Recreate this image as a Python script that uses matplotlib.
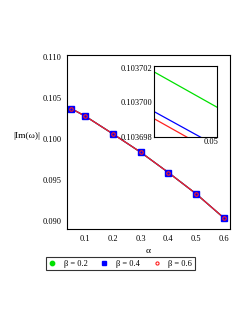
import matplotlib
matplotlib.use("Agg")
import matplotlib.pyplot as plt

plt.rcParams['font.family'] = ['Liberation Serif', 'DejaVu Serif']
plt.rcParams['mathtext.fontset'] = 'stix'

alpha = [0.05, 0.1, 0.2, 0.3, 0.4, 0.5, 0.6]
im_b02 = [0.1037008, 0.10279, 0.10062, 0.09838, 0.09590, 0.09330, 0.09036]
im_b04 = [0.1036994, 0.10279, 0.10062, 0.09838, 0.09590, 0.09330, 0.09036]
im_b06 = [0.1036990, 0.10279, 0.10062, 0.09838, 0.09590, 0.09330, 0.09036]

zoom_alpha = [0.04991, 0.05001]
zoom_b02 = [0.10370176, 0.10369972]
zoom_b04 = [0.10369947, 0.10369747]
zoom_b06 = [0.10369906, 0.10369702]

labels = ['β = 0.2', 'β = 0.4', 'β = 0.6']
GREEN, BLUE, RED = '#00e000', '#0000ff', '#ff2020'

fig = plt.figure(figsize=(2.49, 3.23), dpi=100)
ax = fig.add_axes([0.269, 0.291, 0.655, 0.539])
FS = 6.0

ax.plot(alpha, im_b02, color=GREEN, lw=0.9)
ax.plot(alpha, im_b04, color=BLUE, lw=0.9)
ax.plot(alpha, im_b06, color=RED, lw=0.9)
h1, = ax.plot(alpha, im_b02, ls='none', marker='o', ms=3.5, color=GREEN, label=labels[0])
h2, = ax.plot(alpha, im_b04, ls='none', marker='s', ms=3.8, color=BLUE, label=labels[1])
h3, = ax.plot(alpha, im_b06, ls='none', marker='o', ms=2.5, mfc='none', mec=RED, mew=0.8, label=labels[2])

ax.set_xlim(0.035, 0.622)
ax.set_ylim(0.08902, 0.11024)
ax.set_xticks([0.1, 0.2, 0.3, 0.4, 0.5, 0.6])
ax.set_xticklabels(['0.1', '0.2', '0.3', '0.4', '0.5', '0.6'])
ax.set_yticks([0.090, 0.095, 0.100, 0.105, 0.110])
ax.set_yticklabels(['0.090', '0.095', '0.100', '0.105', '0.110'])
ax.tick_params(length=0, labelsize=FS, pad=4)
for s in ax.spines.values():
    s.set_linewidth(0.8)
ax.set_xlabel('α', fontsize=FS + 0.8, labelpad=3)
fig.text(27 / 249, 1 - 136 / 323, '|Im(ω)|', fontsize=FS + 0.8, ha='center', va='center')

# inset
axi = fig.add_axes([0.618, 0.576, 0.253, 0.220])
axi.plot(zoom_alpha, zoom_b02, color=GREEN, lw=0.9)
axi.plot(zoom_alpha, zoom_b04, color=BLUE, lw=0.9)
axi.plot(zoom_alpha, zoom_b06, color=RED, lw=0.9)
axi.set_xlim(0.04991, 0.05001)
axi.set_ylim(0.103698, 0.1037021)
axi.set_xticks([0.05])
axi.set_xticklabels(['0.05'])
axi.set_yticks([0.103698, 0.103700, 0.103702])
axi.set_yticklabels(['0.103698', '0.103700', '0.103702'])
axi.tick_params(length=0, labelsize=FS, pad=1)
for s in axi.spines.values():
    s.set_linewidth(0.8)

leg = fig.legend(handles=[h1, h2, h3], loc='center', bbox_to_anchor=(120.5 / 249, 1 - 263.5 / 323),
                 ncol=3, fontsize=FS, frameon=True, fancybox=False, edgecolor='black',
                 handlelength=0.8, handletextpad=1.0, columnspacing=1.6, borderpad=0.35,
                 markerscale=0.9)
leg.get_frame().set_linewidth(0.8)

fig.savefig('out.png', dpi=100)
